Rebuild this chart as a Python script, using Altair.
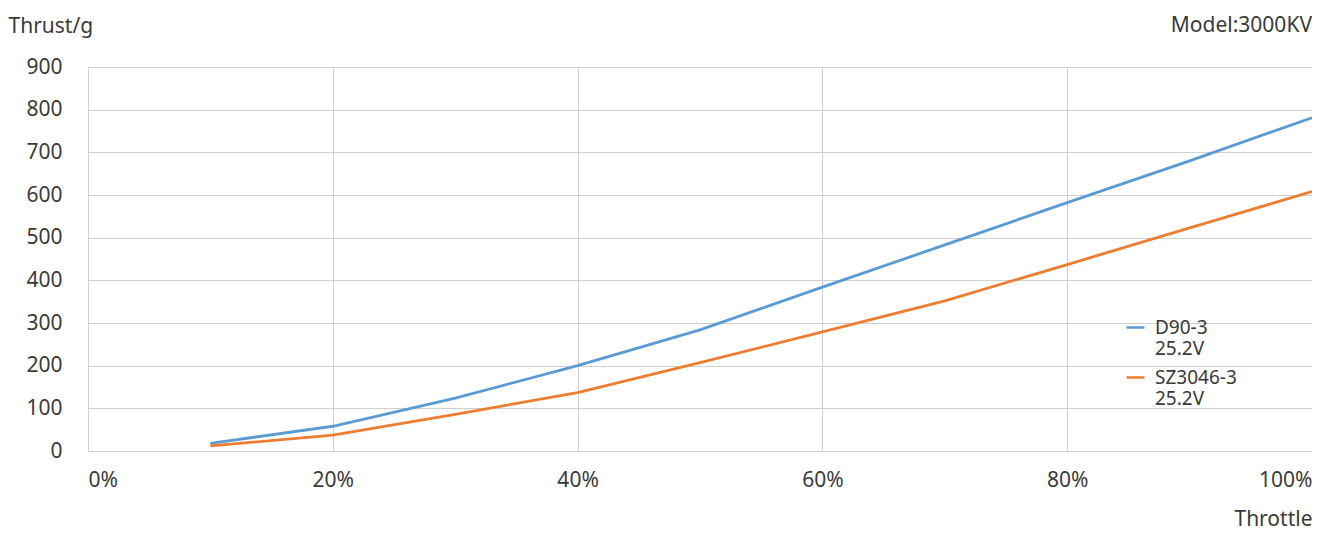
import altair as alt
import pandas as pd

throttle = [10, 20, 30, 40, 50, 60, 70, 80, 90, 100]
d90_3 = [18, 58, 124, 200, 284, 384, 483, 582, 680, 781]
sz3046_3 = [12, 37, 86, 137, 207, 279, 352, 437, 523, 608]
series_names = ["D90-3 25.2V", "SZ3046-3 25.2V"]
series_colors = ["#5b9bd5", "#ed7d31"]
x_ticks = [0, 20, 40, 60, 80, 100]
y_ticks = [0, 100, 200, 300, 400, 500, 600, 700, 800, 900]
model_label = ["Model:3000KV"]

rows = []
for t, a, b in zip(throttle, d90_3, sz3046_3):
    rows.append({"throttle": t, "thrust": a, "series": series_names[0]})
    rows.append({"throttle": t, "thrust": b, "series": series_names[1]})
df = pd.DataFrame(rows)

FONT = "Noto Sans"
TXT = "#3a3a3a"
GRID = "#d0d0d0"
W = 1224
H = 384

lines = alt.Chart(df).mark_line(strokeWidth=2.8).encode(
    x=alt.X("throttle:Q",
            scale=alt.Scale(domain=[0, 100], nice=False),
            axis=alt.Axis(values=x_ticks, labelExpr="datum.value + '%'",
                          grid=True, gridColor=GRID, domainColor=GRID,
                          ticks=False, labelFlush=True, labelPadding=18,
                          labelFontSize=21, labelColor=TXT, labelFont=FONT,
                          title="Throttle", titleFont=FONT, titleFontSize=21,
                          titleFontWeight="normal", titleColor=TXT,
                          titleAnchor="end", titleAlign="right",
                          titleBaseline="alphabetic", titleX=W, titleY=74)),
    y=alt.Y("thrust:Q",
            scale=alt.Scale(domain=[0, 900], nice=False),
            axis=alt.Axis(values=y_ticks, grid=True, gridColor=GRID,
                          domainColor=GRID, ticks=False, labelPadding=26,
                          labelFontSize=21, labelColor=TXT, labelFont=FONT,
                          title="Thrust/g", titleFont=FONT, titleFontSize=21,
                          titleFontWeight="normal", titleColor=TXT,
                          titleAngle=0, titleAlign="left",
                          titleBaseline="alphabetic", titleX=-80, titleY=-35)),
    color=alt.Color("series:N",
                    scale=alt.Scale(domain=series_names, range=series_colors),
                    legend=alt.Legend(orient="none", legendX=1037, legendY=250,
                                      title=None, symbolType="stroke",
                                      symbolSize=324, symbolStrokeWidth=2.5,
                                      labelFont=FONT, labelFontSize=19,
                                      labelColor=TXT, rowPadding=8,
                                      labelOffset=9,
                                      labelExpr="split(datum.label, ' ')")),
)

model_text = alt.Chart(pd.DataFrame({"t": model_label})).mark_text(
    align="right", baseline="alphabetic", font=FONT, fontSize=21, color=TXT
).encode(text="t:N", x=alt.value(W), y=alt.value(-35))

chart = alt.layer(lines, model_text).properties(
    width=W,
    height=H,
    autosize=alt.AutoSizeParams(type="none"),
    padding={"left": 80, "top": 59, "right": 0, "bottom": 90},
).configure_view(stroke=None)

chart.save("out.html", embed_options={"renderer": "svg", "actions": False})
